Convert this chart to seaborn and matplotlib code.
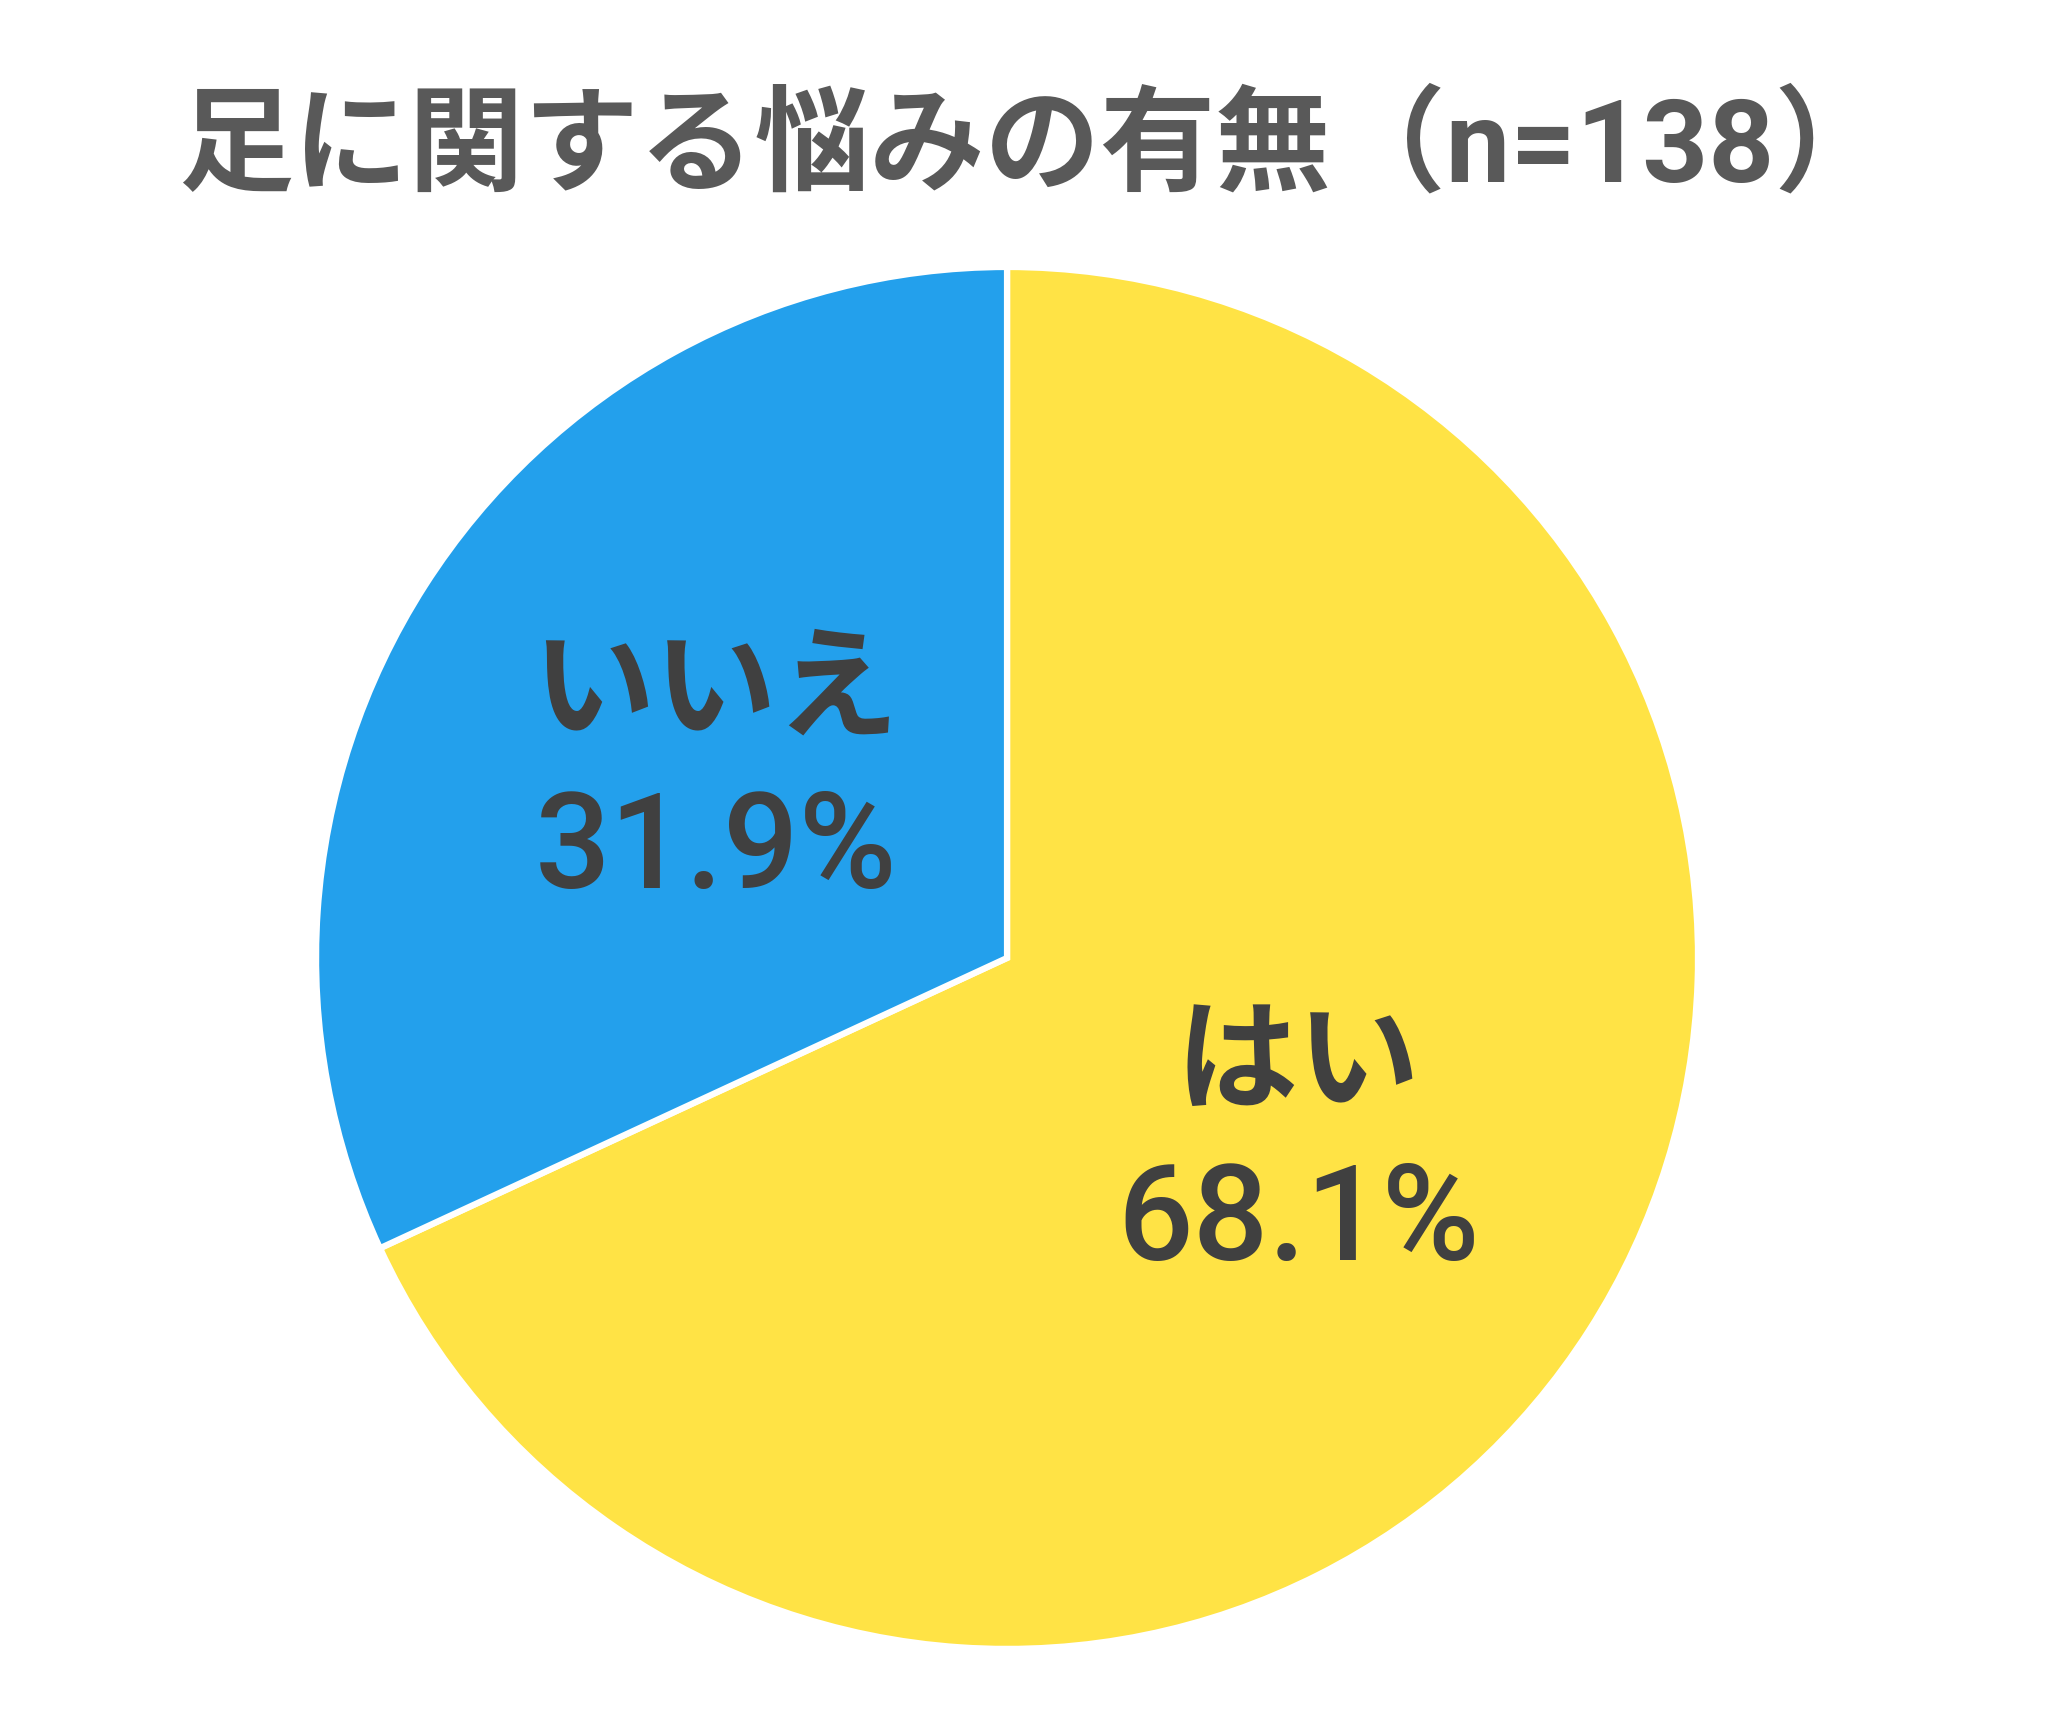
import numpy as np
import matplotlib.pyplot as plt
import seaborn as sns

# data
labels = ['はい', 'いいえ']
shares = [68.1, 31.9]
colors = ['#FFE345', '#23A0EC']
title = '足に関する悩みの有無（n=138）'

sns.set_theme(style='white')
plt.rcParams['font.family'] = ['Noto Sans CJK JP', 'DejaVu Sans']

fig = plt.figure(figsize=(20.67, 17.18), dpi=100)
ax = fig.add_axes([0.1529, 0.0402, 0.6686, 0.8044])

wedges, _ = ax.pie(shares, colors=colors, startangle=90, counterclock=False,
                   wedgeprops=dict(edgecolor='white', linewidth=4.5))
ax.set_aspect('equal')
ax.set_xlim(-1, 1)
ax.set_ylim(-1, 1)

# two-line labels at the middle of each wedge
for w, lab, val in zip(wedges, labels, shares):
    ang = np.deg2rad((w.theta1 + w.theta2) / 2)
    x, y = 0.5 * np.cos(ang), 0.5 * np.sin(ang)
    ax.text(x, y + 0.115, lab, ha='center', va='center', fontsize=88,
            fontweight='bold', color='#404040')
    ax.text(x, y - 0.115, f'{val:.1f}%', ha='center', va='center', fontsize=96,
            fontweight='medium', color='#404040',
            family=['Roboto', 'Noto Sans CJK JP'])

fig.text(0.500, 0.913, title, ha='center', va='center', fontsize=83,
         fontweight='bold', color='#595959',
         family=['Roboto', 'Noto Sans CJK JP'])

fig.savefig('out.png', dpi=100, facecolor='white')
